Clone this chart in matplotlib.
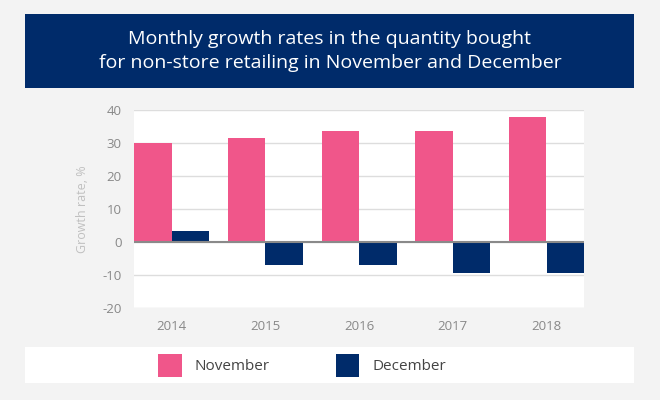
import matplotlib
matplotlib.use("Agg")
import matplotlib.pyplot as plt
from matplotlib.patches import Rectangle
import numpy as np

years = ["2014", "2015", "2016", "2017", "2018"]
november = [30.1, 31.4, 33.7, 33.7, 38.0]
december = [3.3, -7.0, -7.0, -9.3, -9.3]
yticks = [-20, -10, 0, 10, 20, 30, 40]

PINK = "#f0568a"
NAVY = "#002b6a"
BG = "#f3f3f3"

plt.rcParams['font.family'] = ['Open Sans', 'DejaVu Sans']

fig = plt.figure(figsize=(6.6, 4.0), dpi=100, facecolor=BG)
W, H = 660, 400

def fx(x): return x / W
def fy(y): return 1 - y / H

# title box
fig.patches.append(Rectangle((fx(25), fy(88)), fx(634) - fx(25), fy(14) - fy(88),
                             transform=fig.transFigure, facecolor=NAVY, edgecolor='none', zorder=0))
fig.text(fx(330), fy(39), "Monthly growth rates in the quantity bought",
         color="white", fontsize=14, ha='center', va='center', zorder=5)
fig.text(fx(330), fy(63), "for non-store retailing in November and December",
         color="white", fontsize=14, ha='center', va='center', zorder=5)

# legend box
fig.patches.append(Rectangle((fx(25), fy(383)), fx(634) - fx(25), fy(347) - fy(383),
                             transform=fig.transFigure, facecolor='white', edgecolor='none', zorder=0))
fig.patches.append(Rectangle((fx(158), fy(377)), fx(182) - fx(158), fy(354) - fy(377),
                             transform=fig.transFigure, facecolor=PINK, edgecolor='none'))
fig.text(fx(194), fy(366), "November", color="#444444", fontsize=11, ha='left', va='center')
fig.patches.append(Rectangle((fx(336), fy(377)), fx(359) - fx(336), fy(354) - fy(377),
                             transform=fig.transFigure, facecolor=NAVY, edgecolor='none'))
fig.text(fx(372), fy(366), "December", color="#444444", fontsize=11, ha='left', va='center')

ax = fig.add_axes([fx(134), fy(308), fx(584) - fx(134), fy(110) - fy(308)])
ax.set_facecolor('white')
x = np.arange(len(years))
w = 0.4
ax.bar(x - w / 2, november, width=w, color=PINK, zorder=3)
ax.bar(x + w / 2, december, width=w, color=NAVY, zorder=3)
ax.axhline(0, color="#8a8a8a", lw=1.5, zorder=4)
ax.set_xlim(-0.4, len(years) - 0.6)
ax.set_ylim(-20, 40)
ax.set_yticks(yticks)
ax.set_yticklabels([str(t) for t in yticks])
ax.set_xticks(x)
ax.set_xticklabels(years)
ax.grid(axis='y', color="#dddddd", lw=1, zorder=0)
for s in ax.spines.values():
    s.set_visible(False)
ax.tick_params(axis='both', length=0, colors="#888888", labelsize=9.5)
ax.tick_params(axis='y', pad=9)
ax.tick_params(axis='x', pad=9)
ax.set_ylabel("Growth rate, %", color="#c0c0c0", fontsize=9)
ax.yaxis.set_label_coords(fx(82 - 134) / (fx(584) - fx(134)) * 1.0, 0.5)
ax.yaxis.label.set_va('center')

fig.savefig("out.png", dpi=100, facecolor=BG)
